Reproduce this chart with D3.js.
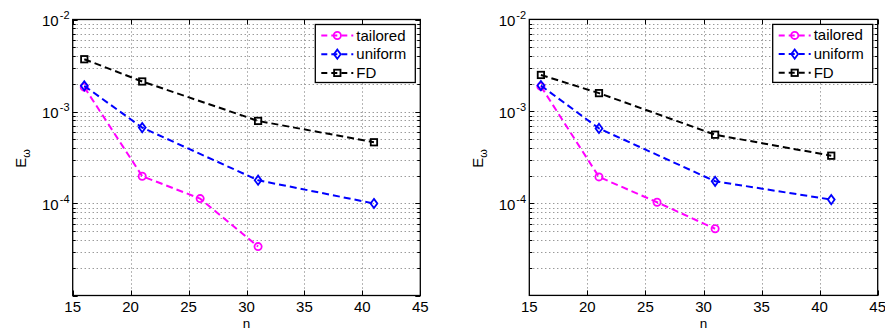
<!DOCTYPE html>
<html>
<head>
<meta charset="utf-8">
<script src="https://cdn.jsdelivr.net/npm/d3@7"></script>
<style>
  html, body { margin: 0; padding: 0; background: #fff; }
  svg { display: block; font-family: "Liberation Sans", Arial, Helvetica, sans-serif; }
</style>
</head>
<body>
<svg id="chart" width="885" height="331"></svg>
<script>
// ---------- data ----------
const xTicks = [15, 20, 25, 30, 35, 40, 45];
const yMajorExps = [-2, -3, -4];
const seriesNames = ["tailored", "uniform", "FD"];
const seriesColors = ["#ff00ff", "#0000ff", "#000000"];
const seriesMarkers = ["circle", "diamond", "square"];

const nTailored = [16, 21, 26, 31];
const nUniform = [16, 21, 31, 41];
const nFD = [16, 21, 31, 41];

// left panel
const leftTailored = [1.84e-3, 1.98e-4, 1.13e-4, 3.4e-5];
const leftUniform = [1.9e-3, 6.68e-4, 1.79e-4, 1.0e-4];
const leftFD = [3.7e-3, 2.12e-3, 7.9e-4, 4.63e-4];

// right panel
const rightTailored = [1.87e-3, 1.94e-4, 1.03e-4, 5.3e-5];
const rightUniform = [1.91e-3, 6.53e-4, 1.74e-4, 1.1e-4];
const rightFD = [2.49e-3, 1.58e-3, 5.58e-4, 3.3e-4];

const xLabel = "n";
const yLabelMain = "E";
const yLabelSub = "\u03c9";

// ---------- drawing ----------
const svg = d3.select("#chart");
const FS = 15;

const panels = [
  { x0: 72.7, x1: 420.3, y0: 19.5, y1: 295.5,
    series: [[nTailored, leftTailored], [nUniform, leftUniform], [nFD, leftFD]] },
  { x0: 529.3, x1: 877.7, y0: 19.4, y1: 295.4,
    series: [[nTailored, rightTailored], [nUniform, rightUniform], [nFD, rightFD]] }
];

function drawMarker(g, type, cx, cy, color) {
  if (type === "circle") {
    g.append("circle").attr("cx", cx).attr("cy", cy).attr("r", 3.6)
      .attr("fill", "none").attr("stroke", color).attr("stroke-width", 1.8);
  } else if (type === "diamond") {
    const w = 3.4, h = 4.6;
    g.append("path")
      .attr("d", `M${cx},${cy - h}L${cx + w},${cy}L${cx},${cy + h}L${cx - w},${cy}Z`)
      .attr("fill", "none").attr("stroke", color).attr("stroke-width", 1.8);
  } else {
    const s = 3.2;
    g.append("rect").attr("x", cx - s).attr("y", cy - s).attr("width", 2 * s).attr("height", 2 * s)
      .attr("fill", "none").attr("stroke", color).attr("stroke-width", 1.8);
  }
}

panels.forEach(p => {
  const x = d3.scaleLinear().domain([15, 45]).range([p.x0, p.x1]);
  const y = d3.scaleLog().domain([1e-5, 1e-2]).range([p.y1, p.y0]);
  const g = svg.append("g");

  const yAll = [];
  for (let e = -5; e < -2; e++) {
    for (let m = 1; m <= 9; m++) yAll.push(m * Math.pow(10, e));
  }
  yAll.push(1e-2);

  // grid
  const grid = g.append("g").attr("stroke", "#6e6e6e").attr("stroke-width", 1)
    .attr("stroke-dasharray", "1,3");
  yAll.forEach(v => {
    const yy = Math.round(y(v)) + 0.5;
    if (v === 1e-5 || v === 1e-2) return;
    grid.append("line").attr("x1", p.x0).attr("x2", p.x1).attr("y1", yy).attr("y2", yy);
  });
  xTicks.forEach(t => {
    if (t === 15 || t === 45) return;
    const xx = Math.round(x(t)) + 0.5;
    grid.append("line").attr("x1", xx).attr("x2", xx).attr("y1", p.y0).attr("y2", p.y1);
  });

  // ticks
  const ticks = g.append("g").attr("stroke", "#000").attr("stroke-width", 1);
  yAll.forEach(v => {
    const yy = Math.round(y(v)) + 0.5;
    const major = Math.abs(Math.log10(v) - Math.round(Math.log10(v))) < 1e-9;
    const len = major ? 5 : 3;
    ticks.append("line").attr("x1", p.x0).attr("x2", p.x0 + len).attr("y1", yy).attr("y2", yy);
    ticks.append("line").attr("x1", p.x1).attr("x2", p.x1 - len).attr("y1", yy).attr("y2", yy);
  });
  xTicks.forEach(t => {
    const xx = Math.round(x(t)) + 0.5;
    ticks.append("line").attr("x1", xx).attr("x2", xx).attr("y1", p.y1).attr("y2", p.y1 - 5);
    ticks.append("line").attr("x1", xx).attr("x2", xx).attr("y1", p.y0).attr("y2", p.y0 + 5);
  });

  // axes box
  g.append("rect").attr("x", p.x0).attr("y", p.y0)
    .attr("width", p.x1 - p.x0).attr("height", p.y1 - p.y0)
    .attr("fill", "none").attr("stroke", "#000").attr("stroke-width", 1.3);

  // x tick labels
  xTicks.forEach(t => {
    g.append("text").attr("x", x(t)).attr("y", p.y1 + 16.8)
      .attr("text-anchor", "middle").attr("font-size", FS).attr("fill", "#000").text(t);
  });
  // y tick labels
  yMajorExps.forEach(e => {
    const yy = y(Math.pow(10, e));
    const t = g.append("text").attr("x", p.x0 - 3.2).attr("y", yy + 6.5)
      .attr("text-anchor", "end").attr("font-size", FS).attr("fill", "#000");
    t.append("tspan").text("10");
    t.append("tspan").attr("font-size", 11).attr("dy", -7).attr("dx", 1).text("-" + (-e));
  });

  // axis labels
  g.append("text").attr("x", (p.x0 + p.x1) / 2).attr("y", 328)
    .attr("text-anchor", "middle").attr("font-size", 13.5).text(xLabel);
  const yl = g.append("text")
    .attr("transform", `translate(${p.x0 - 46.5},${(p.y0 + p.y1) / 2 + 1}) rotate(-90)`)
    .attr("text-anchor", "middle").attr("font-size", FS);
  yl.append("tspan").text(yLabelMain);
  yl.append("tspan").attr("font-size", 11).attr("dy", 4).text(yLabelSub);

  // series
  const line = d3.line().x(d => x(d[0])).y(d => y(d[1]));
  p.series.forEach((s, i) => {
    const pts = s[0].map((n, k) => [n, s[1][k]]);
    g.append("path").datum(pts).attr("d", line)
      .attr("fill", "none").attr("stroke", seriesColors[i]).attr("stroke-width", 2)
      .attr("stroke-dasharray", "7,4");
    pts.forEach(d => drawMarker(g, seriesMarkers[i], x(d[0]), y(d[1]), seriesColors[i]));
  });

  // legend
  const lw = 100, lh = 58;
  const lx = p.x1 - 5 - lw, ly = p.y0 + 5;
  const lg = g.append("g");
  lg.append("rect").attr("x", lx).attr("y", ly).attr("width", lw).attr("height", lh)
    .attr("fill", "#fff").attr("stroke", "#000").attr("stroke-width", 1.3);
  seriesNames.forEach((name, i) => {
    const ry = ly + 11 + i * 18.7;
    lg.append("line").attr("x1", lx + 6).attr("x2", lx + 38).attr("y1", ry).attr("y2", ry)
      .attr("stroke", seriesColors[i]).attr("stroke-width", 2).attr("stroke-dasharray", "6,4");
    drawMarker(lg, seriesMarkers[i], lx + 22, ry, seriesColors[i]);
    lg.append("text").attr("x", lx + 41).attr("y", ry + 5).attr("font-size", FS).text(name);
  });
});
</script>
</body>
</html>
